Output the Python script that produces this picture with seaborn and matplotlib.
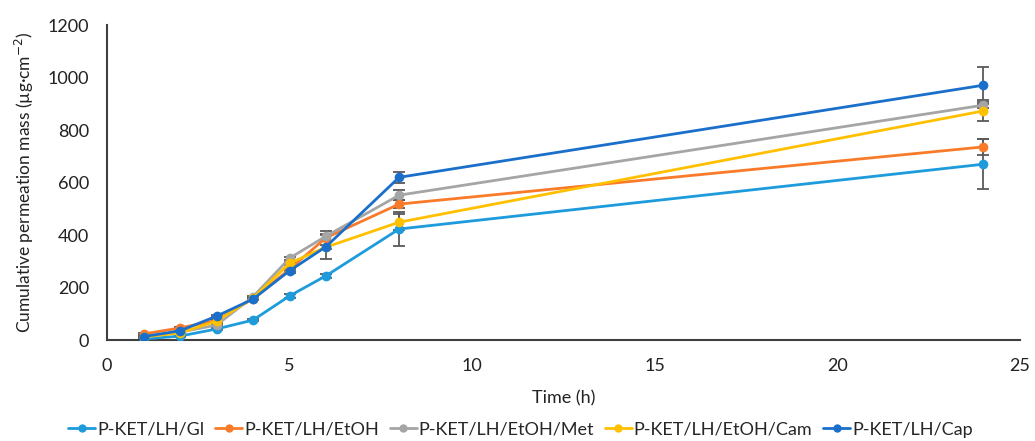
import matplotlib
matplotlib.use("Agg")
import matplotlib.pyplot as plt
import seaborn as sns
import pandas as pd
import numpy as np

time_h = [1, 2, 3, 4, 5, 6, 8, 24]
series_names = ["P-KET/LH/Gl", "P-KET/LH/EtOH", "P-KET/LH/EtOH/Met", "P-KET/LH/EtOH/Cam", "P-KET/LH/Cap"]

gl = [4, 15, 42, 76, 168, 245, 423, 670]
etoh = [23, 46, 75, 158, 270, 390, 518, 736]
met = [10, 30, 57, 165, 312, 396, 552, 895]
cam = [12, 27, 72, 160, 293, 354, 449, 873]
cap = [13, 35, 91, 156, 264, 356, 620, 971]

gl_err = [1, 2, 3, 4, 6, 8, 65, 95]
etoh_err = [2, 3, 3, 4, 6, 12, 15, 30]
met_err = [1, 2, 3, 4, 6, 19, 20, 12]
cam_err = [1, 2, 3, 4, 6, 8, 30, 40]
cap_err = [1, 2, 4, 4, 8, 48, 22, 70]

colors = ["#1E9BDB", "#F97B2A", "#A5A5A5", "#FFC000", "#1A6FCB"]

values = [gl, etoh, met, cam, cap]
errs = [gl_err, etoh_err, met_err, cam_err, cap_err]

df = pd.DataFrame({
    "Time": np.tile(time_h, len(series_names)),
    "Mass": np.concatenate(values),
    "Err": np.concatenate(errs),
    "Series": np.repeat(series_names, len(time_h)),
})

sns.set_theme(style="white")
plt.rcParams["font.family"] = ["Lato", "DejaVu Sans"]

fig = plt.figure(figsize=(10.35, 4.41), dpi=100)
ax = fig.add_axes([0.1034, 0.229, 0.882, 0.714])

for name, col in zip(series_names, colors):
    sub = df[df["Series"] == name]
    ax.errorbar(sub["Time"], sub["Mass"], yerr=sub["Err"], fmt="none",
                ecolor="#595959", elinewidth=1.3, capsize=4, capthick=1.3, zorder=2)

sns.lineplot(data=df, x="Time", y="Mass", hue="Series", hue_order=series_names,
             palette=colors, marker="o", markersize=7, markeredgewidth=0,
             linewidth=2, ax=ax, zorder=3, legend=True)

ax.set_xlim(0, 25)
ax.set_ylim(0, 1200)
ax.set_xticks([0, 5, 10, 15, 20, 25])
ax.set_yticks(range(0, 1201, 200))
ax.tick_params(axis="both", labelsize=13, colors="#222222", length=0)
ax.tick_params(axis="y", pad=13)
ax.tick_params(axis="x", pad=13)
ax.set_xlabel("Time (h)", fontsize=13, color="#222222", labelpad=12)
ax.set_ylabel("Cumulative permeation mass (µg·cm$^{-2}$)", fontsize=12.5, color="#222222", labelpad=8)

for s in ["top", "right"]:
    ax.spines[s].set_visible(False)
for s in ["left", "bottom"]:
    ax.spines[s].set_color("#404040")
    ax.spines[s].set_linewidth(1.5)

handles, labels = ax.get_legend_handles_labels()
ax.get_legend().remove()
for h in handles:
    h.set_markersize(6)
fig.legend(handles, labels, loc="center", bbox_to_anchor=(0.503, 0.026), ncol=5,
           frameon=False, fontsize=13, handlelength=1.5, handletextpad=0.1, columnspacing=0.6)

fig.savefig("out.png", dpi=100)
